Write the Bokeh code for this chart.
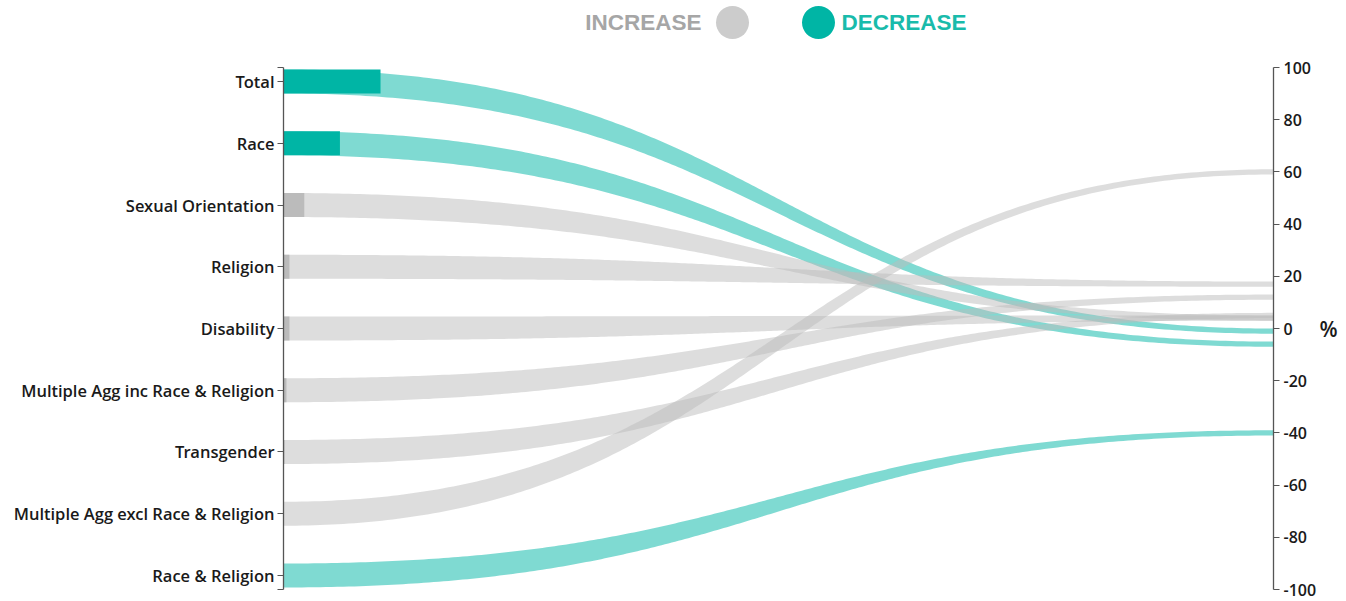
import numpy as np
from bokeh.plotting import figure
from bokeh.models import (Range1d, LinearAxis, FixedTicker, ColumnDataSource, Label)
from bokeh.embed import file_html
from bokeh.resources import INLINE

# ---------------- data ----------------
categories = ["Total", "Race", "Sexual Orientation", "Religion", "Disability",
              "Multiple Agg inc Race & Religion", "Transgender",
              "Multiple Agg excl Race & Religion", "Race & Religion"]
pct_change = [-1, -6, 4, 17, 4, 12, 5, 60, -40]          # right-hand % value
bar_value = [9.8, 5.7, 2.1, 0.6, 0.6, 0.3, 0.1, 0.05, 0.05]  # dark bar length (x units, 0-100)
pct_ticks = list(range(-100, 101, 20))
legend_labels = ["INCREASE", "DECREASE"]
unit_label = "%"

# ---------------- styling / layout ----------------
W, H = 1346, 601
FRAME_LEFT, FRAME_RIGHT = 283, 1273          # figure px
Y_TOP_PX, Y_BOT_PX = 67, 589                 # figure px of +100 / -100
ppu = (Y_BOT_PX - Y_TOP_PX) / 200.0
y_end = 100 + Y_TOP_PX / ppu
y_start = -100 - (H - Y_BOT_PX) / ppu
ppx = (FRAME_RIGHT - FRAME_LEFT) / 100.0

def px_x(fx):  # figure px -> data x
    return (fx - FRAME_LEFT) / ppx

def px_y(fy):  # figure px -> data y
    return y_end - fy / ppu

INC_BAR, INC_RIB = "#BBBBBB", "#BBBBBB"
DEC_BAR, DEC_RIB = "#00B5A5", "#00B5A5"

pad = 14 / ppu
n = len(categories)
cat_pos = [round(100 - pad - i * (200 - 2 * pad) / (n - 1), 4) for i in range(n)]

h0 = 12 / ppu     # half thickness at left
h1 = 2.6 / ppu    # half thickness at right

p = figure(width=W, height=H, output_backend="svg", toolbar_location=None,
           x_range=Range1d(0, 100), y_range=Range1d(y_start, y_end),
           x_axis_location=None, y_axis_location=None,
           min_border_left=FRAME_LEFT, min_border_right=W - FRAME_RIGHT,
           min_border_top=0, min_border_bottom=0)
p.outline_line_color = None
p.xgrid.visible = False
p.ygrid.visible = False
p.background_fill_color = "white"
p.border_fill_color = "white"

# ribbons
t = np.linspace(0, 1, 240)
x0, x1, xm = 0.0, 100.0, 50.0
bx = (1 - t) ** 3 * x0 + 3 * (1 - t) ** 2 * t * xm + 3 * (1 - t) * t ** 2 * xm + t ** 3 * x1
wa = (1 - t) ** 3 + 3 * (1 - t) ** 2 * t
wb = 3 * (1 - t) * t ** 2 + t ** 3

xs, ys, cols = [], [], []
for yc, v in zip(cat_pos, pct_change):
    top = wa * (yc + h0) + wb * (v + h1)
    bot = wa * (yc - h0) + wb * (v - h1)
    xs.append(list(np.concatenate([bx, bx[::-1]])))
    ys.append(list(np.concatenate([top, bot[::-1]])))
    cols.append(DEC_RIB if v < 0 else INC_RIB)

p.patches(xs="xs", ys="ys", fill_color="c", fill_alpha=0.5, line_color=None,
          source=ColumnDataSource(dict(xs=xs, ys=ys, c=cols)))

# dark bars at left
p.quad(left=0, right="r", bottom="b", top="t", fill_color="c", line_color=None,
       source=ColumnDataSource(dict(
           r=bar_value,
           b=[y - h0 for y in cat_pos], t=[y + h0 for y in cat_pos],
           c=[DEC_BAR if v < 0 else INC_BAR for v in pct_change])))

AXIS_FONT = "'Open Sans SemiBold', 'Open Sans'"

# left categorical axis
lax = LinearAxis(ticker=FixedTicker(ticks=[100] + cat_pos + [-100]), bounds=(-100, 100))
overrides = {c: lab for c, lab in zip(cat_pos, categories)}
overrides[100] = ""
overrides[-100] = ""
lax.major_label_overrides = overrides
lax.major_tick_out = 6
lax.major_tick_in = 0
lax.minor_tick_out = 0
lax.minor_tick_in = 0
lax.major_label_standoff = 3
lax.axis_line_color = "#555555"
lax.axis_line_width = 1.3
lax.major_tick_line_color = "#555555"
lax.major_label_text_font = AXIS_FONT
lax.major_label_text_font_size = "16.5px"
lax.major_label_text_color = "#1A1A1A"
p.add_layout(lax, "left")

# right % axis
rax = LinearAxis(ticker=FixedTicker(ticks=pct_ticks), bounds=(-100, 100))
rax.major_label_overrides = {tk: str(tk) for tk in pct_ticks}
rax.major_tick_out = 6
rax.major_tick_in = 0
rax.minor_tick_out = 0
rax.minor_tick_in = 0
rax.major_label_standoff = 4
rax.axis_line_color = "#555555"
rax.axis_line_width = 1.3
rax.major_tick_line_color = "#555555"
rax.major_label_text_font = AXIS_FONT
rax.major_label_text_font_size = "16px"
rax.major_label_text_color = "#1A1A1A"
p.add_layout(rax, "right")

# "%" unit label, placed level with 0 on the right
uax = LinearAxis(ticker=FixedTicker(ticks=[0]), bounds=(-100, 100))
uax.major_label_overrides = {0: unit_label}
uax.axis_line_color = None
uax.major_tick_line_color = None
uax.major_tick_out = 0
uax.major_tick_in = 0
uax.minor_tick_out = 0
uax.minor_tick_in = 0
uax.major_label_standoff = 0
uax.major_label_text_font = AXIS_FONT
uax.major_label_text_font_style = "bold"
uax.major_label_text_font_size = "21px"
uax.major_label_text_color = "#1A1A1A"
p.add_layout(uax, "right")

# legend (top)
leg_y = px_y(22)
p.scatter(x=[px_x(732), px_x(818)], y=[leg_y, leg_y], size=33,
          fill_color=["#CCCCCC", "#00B5A5"], line_color=None)
p.add_layout(Label(x=px_x(701), y=leg_y, text=legend_labels[0], text_align="right",
                   text_baseline="middle", text_font="Liberation Sans",
                   text_font_style="bold", text_font_size="22.5px", text_color="#A6A6A6"))
p.add_layout(Label(x=px_x(841), y=leg_y, text=legend_labels[1], text_align="left",
                   text_baseline="middle", text_font="Liberation Sans",
                   text_font_style="bold", text_font_size="22.5px", text_color="#19BBAB"))

open("out.html", "w").write(file_html(p, INLINE))
